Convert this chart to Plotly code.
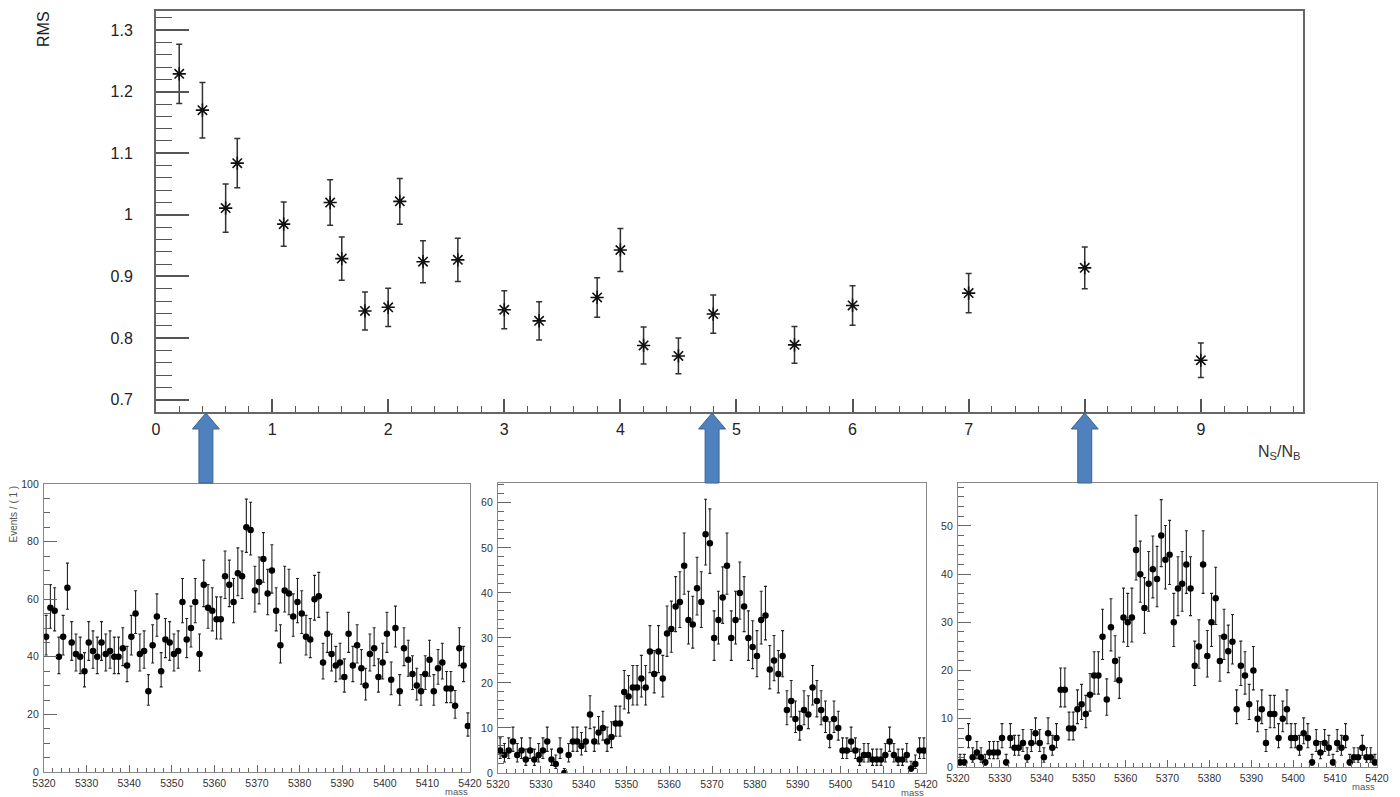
import math
import plotly.graph_objects as go

# ---------------- data ----------------
ns_nb = [0.2, 0.4, 0.6, 0.7, 1.1, 1.5, 1.6, 1.8, 2.0, 2.1, 2.3, 2.6, 3.0, 3.3,
         3.8, 4.0, 4.2, 4.5, 4.8, 5.5, 6.0, 7.0, 8.0, 9.0]
rms = [1.229, 1.170, 1.011, 1.084, 0.985, 1.020, 0.929, 0.844, 0.850, 1.022,
       0.924, 0.927, 0.846, 0.828, 0.866, 0.943, 0.788, 0.771, 0.839, 0.789,
       0.853, 0.873, 0.914, 0.764]
rms_err = [0.048, 0.045, 0.039, 0.040, 0.036, 0.037, 0.035, 0.031, 0.031, 0.037,
           0.034, 0.035, 0.031, 0.031, 0.032, 0.035, 0.030, 0.029, 0.031, 0.030,
           0.032, 0.032, 0.034, 0.028]

main_xticks = [0, 1, 2, 3, 4, 5, 6, 7, 8, 9]
main_yticks = [0.7, 0.8, 0.9, 1.0, 1.1, 1.2, 1.3]
main_yticktext = ["0.7", "0.8", "0.9", "1", "1.1", "1.2", "1.3"]

arrow_x = [0.43, 4.79, 8.0]   # N_S/N_B values the arrows point at

mass_lo = 5320
mass_bins = 100
mass_ticks = [5320, 5330, 5340, 5350, 5360, 5370, 5380, 5390, 5400, 5410, 5420]

counts_low = [47, 57, 56, 40, 47, 64, 45, 41, 40, 35,
              45, 42, 40, 45, 41, 42, 40, 40, 43, 37,
              47, 55, 41, 42, 28, 44, 54, 35, 46, 45,
              41, 42, 59, 46, 50, 59, 41, 65, 57, 56,
              53, 53, 68, 65, 59, 69, 68, 85, 84, 63,
              66, 74, 62, 70, 56, 44, 63, 62, 54, 59,
              55, 47, 46, 60, 61, 38, 48, 41, 37, 38,
              33, 48, 37, 44, 36, 30, 41, 43, 33, 38,
              48, 32, 50, 28, 43, 39, 34, 30, 28, 34,
              39, 28, 36, 38, 29, 29, 23, 43, 37, 16]
counts_mid = [5, 4, 5, 7, 4, 5, 3, 5, 3, 4,
              5, 7, 3, 2, 5, 0, 4, 7, 7, 6,
              7, 13, 7, 9, 10, 7, 8, 11, 11, 18,
              17, 19, 19, 21, 19, 27, 22, 27, 21, 31,
              32, 37, 38, 46, 34, 33, 41, 38, 53, 51,
              30, 34, 39, 46, 30, 34, 40, 37, 30, 28,
              26, 34, 35, 23, 25, 22, 26, 14, 16, 12,
              10, 14, 13, 19, 16, 14, 12, 8, 12, 10,
              5, 5, 7, 5, 3, 4, 4, 3, 3, 3,
              4, 7, 4, 3, 3, 4, 1, 2, 5, 5]
counts_high = [1, 1, 6, 2, 3, 2, 1, 3, 3, 3,
               6, 1, 6, 4, 4, 5, 2, 5, 7, 5,
               2, 7, 4, 6, 16, 16, 8, 8, 12, 13,
               11, 15, 19, 19, 27, 14, 29, 22, 18, 31,
               30, 31, 45, 40, 33, 38, 41, 39, 48, 43,
               44, 30, 37, 38, 42, 37, 21, 25, 42, 23,
               30, 35, 22, 27, 24, 26, 12, 21, 19, 13,
               20, 10, 12, 5, 11, 11, 6, 10, 12, 6,
               6, 4, 7, 6, 1, 5, 3, 5, 4, 1,
               5, 4, 6, 1, 2, 2, 4, 2, 2, 1]

sub_yticks_low = [0, 20, 40, 60, 80, 100]
sub_yticks_mid = [0, 10, 20, 30, 40, 50, 60]
sub_yticks_high = [0, 10, 20, 30, 40, 50]

mass_centers = [mass_lo + i + 0.5 for i in range(mass_bins)]


def poisson_err(counts):
    up = [0.5 + math.sqrt(n + 0.25) for n in counts]
    dn = [math.sqrt(n + 0.25) - 0.5 for n in counts]
    return up, dn


FONT = "Liberation Sans, Arial, Helvetica, sans-serif"
W, H = 1400, 797


def px_x(p):
    return p / W


def px_y(p):
    return 1 - p / H


fig = go.Figure()

# main RMS plot
fig.add_trace(go.Scatter(
    x=ns_nb, y=rms, mode="markers", xaxis="x", yaxis="y",
    marker=dict(symbol="asterisk-open", size=11, color="#111",
                line=dict(width=1.6, color="#111")),
    error_y=dict(type="data", array=rms_err, visible=True,
                 color="#333", thickness=1.5, width=3),
    hoverinfo="x+y",
))

# three mass histograms
for k, counts in enumerate([counts_low, counts_mid, counts_high]):
    up, dn = poisson_err(counts)
    fig.add_trace(go.Scatter(
        x=mass_centers, y=counts, mode="markers",
        xaxis="x%d" % (k + 2), yaxis="y%d" % (k + 2),
        marker=dict(symbol="circle", size=6.5, color="#000"),
        error_y=dict(type="data", symmetric=False, array=up, arrayminus=dn,
                     visible=True, color="#222", thickness=1.1, width=1.5),
        hoverinfo="x+y",
    ))

layout = dict(
    template="none",
    width=W, height=H, margin=dict(l=0, r=0, t=0, b=0, pad=0, autoexpand=False),
    paper_bgcolor="white", plot_bgcolor="white", showlegend=False,
    font=dict(family=FONT, color="#222"),
)

layout["xaxis"] = dict(
    domain=[px_x(156), px_x(1303)], range=[0, 9.88], anchor="y",
    automargin=False,
    tickmode="array", tickvals=main_xticks,
    ticks="inside", ticklen=13, tickwidth=1.5, tickcolor="#555",
    minor=dict(ticks="inside", ticklen=6, tickwidth=1.2, tickcolor="#555",
               tickmode="linear", tick0=0, dtick=0.2, showgrid=False),
    showgrid=False, zeroline=False, showline=True, mirror=True,
    linecolor="#666", linewidth=2, tickfont=dict(size=16, color="#222"),
    ticklabelstandoff=2,
)
layout["yaxis"] = dict(
    domain=[px_y(412), px_y(11)], range=[0.68, 1.331], anchor="x",
    automargin=False,
    tickmode="array", tickvals=main_yticks, ticktext=main_yticktext,
    ticks="inside", ticklen=33, tickwidth=1.5, tickcolor="#555",
    minor=dict(ticks="inside", ticklen=16, tickwidth=1.2, tickcolor="#555",
               tickmode="linear", tick0=0, dtick=0.02, showgrid=False),
    showgrid=False, zeroline=False, showline=True, mirror=True,
    linecolor="#666", linewidth=2, tickfont=dict(size=16, color="#222"),
    ticklabelstandoff=18,
)

sub_geo = [
    ([44, 470], [772, 484], 100.0, sub_yticks_low, 5),
    ([498, 926], [773, 483], 64.4, sub_yticks_mid, 2),
    ([958, 1377], [767, 483], 58.9, sub_yticks_high, 2),
]
for k, (xd, yd, ymax, yt, ymin_dt) in enumerate(sub_geo):
    n = k + 2
    layout["xaxis%d" % n] = dict(
        domain=[px_x(xd[0]), px_x(xd[1])], range=[mass_lo, mass_lo + mass_bins],
        anchor="y%d" % n, automargin=False, tickmode="array", tickvals=mass_ticks,
        ticks="inside", ticklen=7, tickwidth=1, tickcolor="#666",
        minor=dict(ticks="inside", ticklen=4, tickwidth=1, tickcolor="#666",
                   tickmode="linear", tick0=mass_lo, dtick=2, showgrid=False),
        showgrid=False, zeroline=False, showline=True, mirror=True,
        linecolor="#888", linewidth=1.2, tickfont=dict(size=10.5, color="#333"),
        ticklabelstandoff=1,
    )
    layout["yaxis%d" % n] = dict(
        domain=[px_y(yd[0]), px_y(yd[1])], range=[0, ymax],
        anchor="x%d" % n, automargin=False, tickmode="array", tickvals=yt,
        ticks="inside", ticklen=13, tickwidth=1, tickcolor="#666",
        minor=dict(ticks="inside", ticklen=6, tickwidth=1, tickcolor="#666",
                   tickmode="linear", tick0=0, dtick=ymin_dt, showgrid=False),
        showgrid=False, zeroline=False, showline=True, mirror=True,
        linecolor="#888", linewidth=1.2, tickfont=dict(size=10.5, color="#333"),
        ticklabelstandoff=2,
    )

fig.update_layout(**layout)

# arrows
shapes = []
sw, hw = 0.060, 0.116
y_tip, y_head, y_bot = px_y(413), px_y(429), px_y(483)
for ax in arrow_x:
    path = ("M {a},{yb} L {a},{yh} L {b},{yh} L {c},{yt} L {d},{yh} L {e},{yh} L {e},{yb} Z"
            .format(a=ax - sw, b=ax - hw, c=ax, d=ax + hw, e=ax + sw,
                    yb=y_bot, yh=y_head, yt=y_tip))
    shapes.append(dict(type="path", xref="x", yref="paper", path=path,
                       fillcolor="#4F81BD", line=dict(color="#3A6396", width=1),
                       layer="above"))
fig.update_layout(shapes=shapes)

annotations = [
    dict(text="RMS", x=px_x(43), y=px_y(9), xref="paper", yref="paper",
         textangle=-90, xanchor="center", yanchor="top", showarrow=False,
         font=dict(size=16, color="#222")),
    dict(text="N<sub>S</sub>/N<sub>B</sub>", x=px_x(1303), y=px_y(452),
         xref="paper", yref="paper", xanchor="right", yanchor="middle",
         showarrow=False, font=dict(size=16, color="#333")),
    dict(text="Events / ( 1 )", x=px_x(13), y=px_y(484), xref="paper", yref="paper",
         textangle=-90, xanchor="center", yanchor="top", showarrow=False,
         font=dict(size=10, color="#555")),
]
for xr, yp in [(470, 791), (926, 792), (1377, 786)]:
    annotations.append(dict(text="mass", x=px_x(xr), y=px_y(yp), xref="paper",
                            yref="paper", xanchor="right", yanchor="middle",
                            showarrow=False, font=dict(size=9.5, color="#555")))
fig.update_layout(annotations=annotations)

fig.write_html(
    "out.html",
    config={"displayModeBar": False},
    post_script="document.body.style.margin='0';document.body.style.padding='0';"
                "document.body.style.overflow='hidden';",
)
